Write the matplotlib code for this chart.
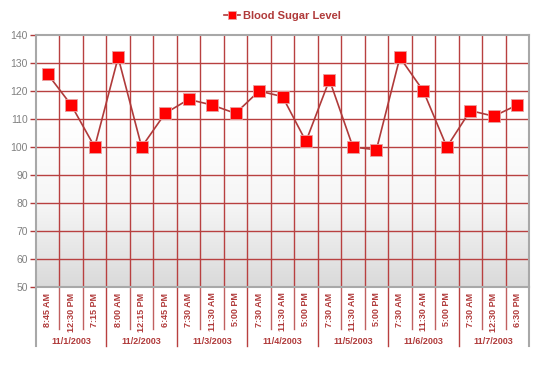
import numpy as np
import matplotlib.pyplot as plt
from matplotlib.colors import LinearSegmentedColormap

plt.rcParams['font.family'] = ['Liberation Sans', 'DejaVu Sans']

# data
dates = ['11/1/2003', '11/2/2003', '11/3/2003', '11/4/2003',
         '11/5/2003', '11/6/2003', '11/7/2003']
times = [['8:45 AM', '12:30 PM', '7:15 PM'],
         ['8:00 AM', '12:15 PM', '6:45 PM'],
         ['7:30 AM', '11:30 AM', '5:00 PM'],
         ['7:30 AM', '11:30 AM', '5:00 PM'],
         ['7:30 AM', '11:30 AM', '5:00 PM'],
         ['7:30 AM', '11:30 AM', '5:00 PM'],
         ['7:30 AM', '12:30 PM', '6:30 PM']]
sugar = [126, 115, 100, 132, 100, 112, 117, 115, 112, 120, 118,
         102, 124, 100, 99, 132, 120, 100, 113, 111, 115]

RED = '#b03a3a'
GRID = '#b84040'
EDGE = '#a8a8a8'

labels = [t for day in times for t in day]
n = len(labels)
x = np.arange(n)

fig = plt.figure(figsize=(5.5, 3.76), dpi=100)
W, H = 550, 376
L, R, T, B = 36, 529, 35, 287
ax = fig.add_axes([L / W, 1 - B / H, (R - L) / W, (B - T) / H])
ax.set_xlim(-0.5, n - 0.5)
ax.set_ylim(50, 140)

# background gradient: white at top, light grey at bottom
cmap = LinearSegmentedColormap.from_list('bg', ['#dadada', '#f6f6f6', '#ffffff', '#ffffff'])
grad = np.linspace(0, 1, 256).reshape(-1, 1)
ax.imshow(grad, extent=(-0.5, n - 0.5, 50, 140), origin='lower', aspect='auto',
          cmap=cmap, zorder=0)

# grid
for b in np.arange(0.5, n - 1, 1):
    ax.axvline(b, color=GRID, lw=1.0, zorder=1)
for v in range(60, 140, 10):
    ax.axhline(v, color=GRID, lw=1.0, zorder=1)

ax.plot(x, sugar, color=RED, lw=1.2, marker='s', markersize=8,
        markerfacecolor='#ff0000', markeredgecolor='#e8a0a0', markeredgewidth=0.6,
        zorder=3, label='Blood Sugar Level')

for s in ax.spines.values():
    s.set_color(EDGE)
    s.set_linewidth(1.5)

ax.set_yticks(range(50, 141, 10))
ax.tick_params(axis='y', colors=RED, length=4, width=1, labelsize=7.5,
               labelcolor='#808080', pad=2)
ax.set_xticks(x)
ax.set_xticklabels(labels, rotation=90, fontsize=6.5, fontweight='bold', color=RED)
ax.tick_params(axis='x', length=0, pad=4)

# separators and date labels below the axis
tr = ax.get_xaxis_transform()
for i in range(1, n):
    day_edge = i % 3 == 0
    y0 = -(346 - B) / (B - T) if day_edge else -(329 - B) / (B - T)
    ax.plot([i - 0.5, i - 0.5], [0, y0], transform=tr, color=GRID if day_edge else '#c06060',
            lw=1.0, clip_on=False)
for i in (0, n):
    ax.plot([i - 0.5, i - 0.5], [0, -(346 - B) / (B - T)], transform=tr, color=EDGE,
            lw=1.5, clip_on=False)
for k, d in enumerate(dates):
    ax.text(3 * k + 1, -(341 - B) / (B - T), d, transform=tr, ha='center', va='center',
            fontsize=6.5, fontweight='bold', color=RED)

leg = ax.legend(loc='center', bbox_to_anchor=(0.5, 1 + (35 - 16) / (B - T)), frameon=False,
                handlelength=1.4, handletextpad=0.3, borderaxespad=0, markerscale=0.8,
                prop={'weight': 'bold', 'size': 8})
for t in leg.get_texts():
    t.set_color(RED)

fig.savefig('out.png', dpi=100)
